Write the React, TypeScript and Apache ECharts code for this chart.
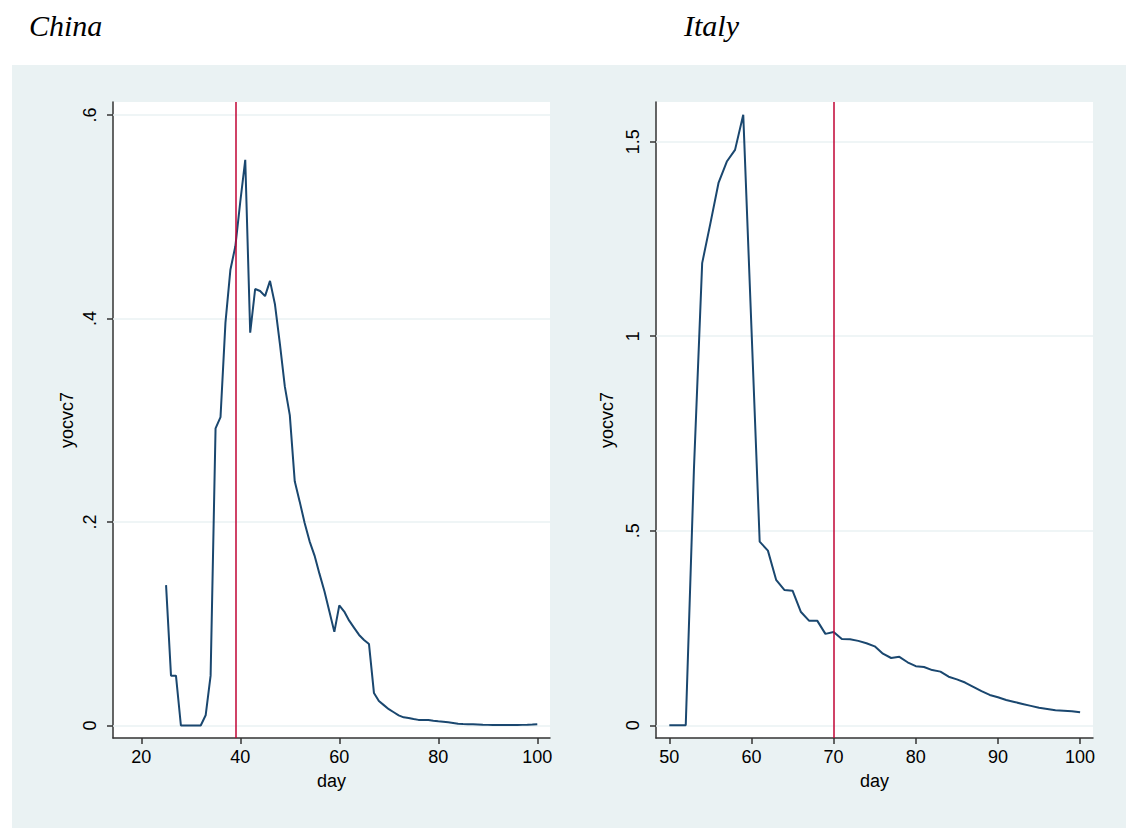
import React, { useEffect, useRef } from "react";
import * as echarts from "echarts";

// ---- China ----
const chinaDays = [
  25, 26, 27, 28, 29, 30, 31, 32, 33, 34, 35, 36, 37, 38, 39, 40, 41, 42, 43, 44,
  45, 46, 47, 48, 49, 50, 51, 52, 53, 54, 55, 56, 57, 58, 59, 60, 61, 62, 63, 64,
  65, 66, 67, 68, 69, 70, 71, 72, 73, 74, 75, 76, 77, 78, 79, 80, 81, 82, 83, 84,
  85, 86, 87, 88, 89, 90, 91, 92, 93, 94, 95, 96, 97, 98, 99, 100,
];
const chinaValues = [
  0.138, 0.049, 0.049, 0, 0, 0, 0, 0, 0.01, 0.049, 0.292, 0.303, 0.396, 0.448, 0.471, 0.515, 0.556, 0.386, 0.429, 0.427,
  0.422, 0.437, 0.414, 0.375, 0.333, 0.305, 0.24, 0.22, 0.199, 0.181, 0.167, 0.149, 0.132, 0.112, 0.092, 0.118, 0.112, 0.103, 0.096, 0.089,
  0.084, 0.08, 0.032, 0.024, 0.02, 0.016, 0.013, 0.01, 0.008, 0.0074, 0.0064, 0.0055, 0.0054, 0.0054, 0.0047, 0.0041, 0.0037, 0.0031, 0.0025, 0.0018,
  0.0015, 0.0013, 0.0011, 0.0009, 0.0007, 0.0006, 0.0005, 0.0005, 0.0005, 0.0005, 0.0005, 0.0005, 0.0006, 0.0007, 0.0009, 0.0012,
];
const chinaXTicks = [20, 40, 60, 80, 100];
const chinaYTicks = [0, 0.2, 0.4, 0.6];
const chinaYLabels = ["0", ".2", ".4", ".6"];
const chinaPolicyDay = 39;

// ---- Italy ----
const italyDays = [
  50, 51, 52, 53, 54, 55, 56, 57, 58, 59, 60, 61, 62, 63, 64, 65, 66, 67, 68, 69,
  70, 71, 72, 73, 74, 75, 76, 77, 78, 79, 80, 81, 82, 83, 84, 85, 86, 87, 88, 89,
  90, 91, 92, 93, 94, 95, 96, 97, 98, 99, 100,
];
const italyValues = [
  0, 0, 0, 0.66, 1.188, 1.29, 1.395, 1.449, 1.479, 1.569, 1.02, 0.472, 0.449, 0.374, 0.348, 0.346, 0.292, 0.269, 0.269, 0.235,
  0.24, 0.222, 0.221, 0.217, 0.211, 0.203, 0.184, 0.173, 0.176, 0.162, 0.152, 0.15, 0.142, 0.138, 0.125, 0.118, 0.11, 0.099, 0.088, 0.078,
  0.072, 0.065, 0.06, 0.055, 0.05, 0.045, 0.042, 0.039, 0.0375, 0.036, 0.0334,
];
const italyXTicks = [50, 60, 70, 80, 90, 100];
const italyYTicks = [0, 0.5, 1, 1.5];
const italyYLabels = ["0", ".5", "1", "1.5"];
const italyPolicyDay = 70;

const titles = ["China", "Italy"];
const xName = "day";
const yName = "yocvc7";

const FONT = "'Liberation Sans', Arial, Helvetica, sans-serif";
const FS = 18;
const AXIS_COLOR = "#333333";
const LINE_COLOR = "#1a476f";
const RED = "#c10534";
const GRID_COLOR = "#eaf2f3";

function labelFor(ticks: number[], labels: string[]) {
  return (v: number) => {
    const i = ticks.findIndex((t) => Math.abs(t - v) < 1e-9);
    return i >= 0 ? labels[i] : "";
  };
}

function xAxisOf(gridIndex: number, min: number, max: number, ticks: number[]) {
  return {
    gridIndex,
    type: "value",
    min,
    max,
    axisLine: { show: true, onZero: false, lineStyle: { color: AXIS_COLOR, width: 1.5 } },
    axisTick: { show: true, length: 6, customValues: ticks, lineStyle: { color: AXIS_COLOR, width: 1.5 } },
    axisLabel: { customValues: ticks, color: "#000", fontSize: FS, fontFamily: FONT, margin: 10 },
    splitLine: { show: false },
    name: xName,
    nameLocation: "middle",
    nameGap: 34,
    nameTextStyle: { color: "#000", fontSize: FS, fontFamily: FONT },
  };
}

function yAxisOf(gridIndex: number, min: number, max: number, ticks: number[], labels: string[], nameGap: number) {
  return {
    gridIndex,
    type: "value",
    min,
    max,
    axisLine: { show: true, onZero: false, lineStyle: { color: AXIS_COLOR, width: 1.5 } },
    axisTick: { show: true, length: 6, customValues: ticks, lineStyle: { color: AXIS_COLOR, width: 1.5 } },
    axisLabel: {
      customValues: ticks,
      rotate: 90,
      color: "#000",
      fontSize: FS,
      fontFamily: FONT,
      margin: 14,
      formatter: labelFor(ticks, labels),
    },
    splitLine: { show: false },
    name: yName,
    nameLocation: "middle",
    nameRotate: 90,
    nameGap,
    nameTextStyle: { color: "#000", fontSize: FS, fontFamily: FONT },
  };
}

function gridLineSeries(idx: number, ticks: number[]) {
  return {
    type: "line",
    xAxisIndex: idx,
    yAxisIndex: idx,
    data: [],
    z: 1,
    silent: true,
    markLine: {
      z: 1,
      silent: true,
      symbol: ["none", "none"],
      label: { show: false },
      emphasis: { disabled: true },
      lineStyle: { color: GRID_COLOR, width: 1.5, type: "solid" },
      data: ticks.map((t) => ({ yAxis: t })),
    },
  };
}

function dataSeries(idx: number, days: number[], values: number[], policyDay: number) {
  return {
    type: "line",
    xAxisIndex: idx,
    yAxisIndex: idx,
    data: days.map((d, i) => [d, values[i]]),
    showSymbol: false,
    symbol: "none",
    z: 3,
    silent: true,
    lineStyle: { color: LINE_COLOR, width: 2 },
    emphasis: { disabled: true },
    markLine: {
      silent: true,
      symbol: ["none", "none"],
      label: { show: false },
      emphasis: { disabled: true },
      lineStyle: { color: RED, width: 1.5, type: "solid" },
      data: [{ xAxis: policyDay }],
    },
  };
}

export default function App() {
  const ref = useRef<HTMLDivElement>(null);

  useEffect(() => {
    if (!ref.current) return;
    const chart = echarts.init(ref.current, undefined, { renderer: "svg" });
    const titleFont = "italic 30px 'Liberation Serif', 'Times New Roman', serif";
    chart.setOption({
      animation: false,
      backgroundColor: "transparent",
      graphic: [
        { type: "text", left: 29, top: 10, style: { text: titles[0], font: titleFont, fill: "#000" } },
        { type: "text", left: 684, top: 10, style: { text: titles[1], font: titleFont, fill: "#000" } },
      ],
      grid: [
        { left: 113, top: 102, right: 576, bottom: 90, show: true, backgroundColor: "#ffffff", borderWidth: 0 },
        { left: 656, top: 102, right: 33, bottom: 90, show: true, backgroundColor: "#ffffff", borderWidth: 0 },
      ],
      xAxis: [
        xAxisOf(0, 14.28, 102.57, chinaXTicks),
        xAxisOf(1, 48.38, 101.57, italyXTicks),
      ],
      yAxis: [
        yAxisOf(0, -0.0123, 0.6128, chinaYTicks, chinaYLabels, 37),
        yAxisOf(1, -0.0326, 1.602, italyYTicks, italyYLabels, 40),
      ],
      series: [
        gridLineSeries(0, chinaYTicks),
        gridLineSeries(1, italyYTicks),
        dataSeries(0, chinaDays, chinaValues, chinaPolicyDay),
        dataSeries(1, italyDays, italyValues, italyPolicyDay),
      ],
    });
    return () => chart.dispose();
  }, []);

  return (
    <div style={{ position: "fixed", left: 0, top: 0, width: 1126, height: 828, background: "#ffffff" }}>
      <div style={{ position: "absolute", left: 12, top: 65, width: 1114, height: 763, background: "#eaf2f3" }} />
      <div ref={ref} style={{ position: "absolute", left: 0, top: 0, width: 1126, height: 828 }} />
    </div>
  );
}
